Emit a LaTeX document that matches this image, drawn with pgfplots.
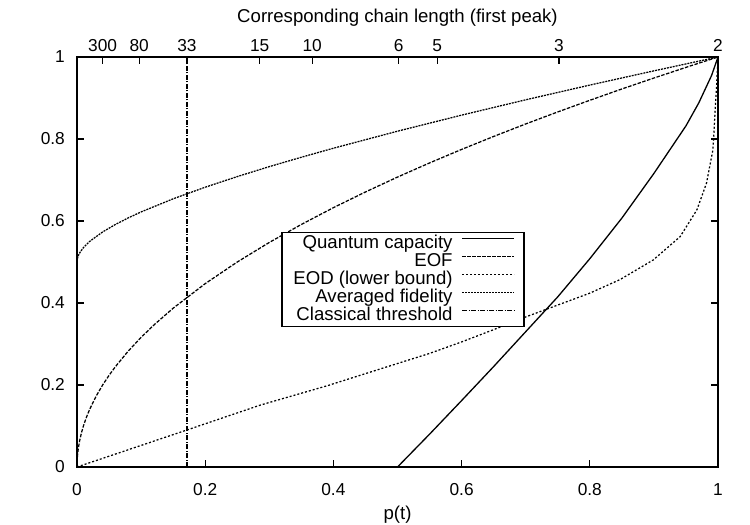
\documentclass[border=0pt]{standalone}
\usepackage{fontspec}
\setmainfont{Liberation Sans}
\usepackage{pgfplots}
\pgfplotsset{compat=1.18}

\begin{document}
\fontsize{18.6}{21}\selectfont
\begin{tikzpicture}
\begin{axis}[
  name=main,
  scale only axis,
  width=641pt, height=410pt,
  xmin=0, xmax=1, ymin=0, ymax=1,
  xtick={0,0.2,0.4,0.6,0.8,1},
  ytick={0,0.2,0.4,0.6,0.8,1},
  xtick pos=bottom,
  ytick pos=both,
  tick align=inside,
  major tick length=7pt,
  tick style={black, line width=1.1pt},
  axis line style={line width=1.8pt},
  /pgf/number format/assume math mode=true,
  ticklabel style={font=\fontsize{17.3}{20}\selectfont},
  yticklabel style={anchor=east, inner sep=0pt, xshift=-12pt},
  xticklabel style={anchor=north, inner sep=0pt, yshift=-16pt},
  xlabel={p(t)},
  xlabel style={at={(axis description cs:0.5,0)}, anchor=base, yshift=-52pt, inner sep=0pt},
  legend style={at={(0.319,0.574)}, anchor=north west, draw=black, line width=1.8pt,
    font=\fontsize{18.6}{21}\selectfont, inner xsep=9pt, inner ysep=2pt,
    row sep=0pt, column sep=7pt,
    nodes={inner xsep=2pt, inner ysep=0.5pt, text height=13.5pt, text depth=3.5pt}},
  legend cell align=right,
  legend plot pos=right,
  legend image code/.code={\draw[#1] (0pt,5pt) -- (52pt,5pt);},
]
% Quantum capacity
\addplot[black, line width=1.3pt, solid] coordinates {
(0.5,0) (0.52,0.032) (0.55,0.08) (0.6,0.162) (0.65,0.245) (0.7,0.33) (0.75,0.415)
(0.8,0.508) (0.85,0.607) (0.9,0.716) (0.95,0.832) (0.97,0.888) (0.99,0.955) (1,1)};
\addlegendentry{Quantum capacity}
% EOF
\addplot[black, line width=1.25pt, dash pattern=on 3.5pt off 1.5pt] coordinates {
(0,0) (0.0005,0.0224) (0.001,0.0316) (0.002,0.0447) (0.004,0.0632) (0.007,0.0837)
(0.01,0.1) (0.015,0.1225) (0.02,0.1414) (0.03,0.1732) (0.04,0.2) (0.05,0.2236)
(0.06,0.2449) (0.08,0.2828) (0.1,0.3162) (0.12,0.3464) (0.15,0.3873) (0.2,0.4472)
(0.25,0.5) (0.3,0.5477) (0.35,0.5916) (0.4,0.6325) (0.45,0.6708) (0.5,0.7071)
(0.55,0.7416) (0.6,0.7746) (0.65,0.8062) (0.7,0.8367) (0.75,0.866) (0.8,0.8944)
(0.85,0.922) (0.9,0.9487) (0.95,0.9747) (1,1)};
\addlegendentry{EOF}
% EOD lower bound
\addplot[black, line width=1.25pt, dash pattern=on 2pt off 2pt] coordinates {
(0,0) (0.171,0.090) (0.286,0.151) (0.39,0.198) (0.493,0.249) (0.55,0.277) (0.6,0.305)
(0.65,0.335) (0.7,0.366) (0.75,0.395) (0.8,0.424) (0.847,0.457) (0.899,0.505)
(0.941,0.562) (0.967,0.627) (0.982,0.692) (0.992,0.773) (0.995,0.854) (0.998,0.936) (1,1)};
\addlegendentry{EOD (lower bound)}
% Averaged fidelity
\addplot[black, line width=1.25pt, dash pattern=on 2pt off 1pt] coordinates {
(0,0.5) (0.001,0.5107) (0.002,0.5152) (0.005,0.5244) (0.01,0.535) (0.02,0.5505)
(0.04,0.5733) (0.06,0.5916) (0.08,0.6076) (0.1,0.6221) (0.15,0.6541) (0.2,0.6824)
(0.25,0.7083) (0.3,0.7326) (0.35,0.7555) (0.4,0.7775) (0.5,0.819) (0.6,0.8582)
(0.7,0.8956) (0.8,0.9315) (0.9,0.9662) (1,1)};
\addlegendentry{Averaged fidelity}
% Classical threshold
\addplot[black, line width=1.25pt, dash pattern=on 5pt off 1.5pt on 1pt off 1.5pt] coordinates {
(0.1716,0) (0.1716,1)};
\addlegendentry{Classical threshold}
\end{axis}
\begin{axis}[
  scale only axis,
  width=641pt, height=410pt,
  xmin=0, xmax=1, ymin=0, ymax=1,
  axis x line*=top,
  axis y line=none,
  axis line style={-, line width=1.8pt},
  xtick={0.04,0.097,0.1716,0.285,0.367,0.502,0.562,0.752,1},
  xticklabels={300,80,33,15,10,6,5,3,2},
  tick align=inside,
  major tick length=7pt,
  tick style={black, line width=1.1pt},
  ticklabel style={font=\fontsize{17.3}{20}\selectfont},
  xticklabel style={anchor=south, inner sep=0pt, yshift=5pt},
  xlabel={Corresponding chain length (first peak)},
  xlabel style={at={(axis description cs:0.5,1)}, anchor=base, yshift=34pt, inner sep=0pt},
]
\end{axis}
\pgfresetboundingbox
\path[use as bounding box] ([shift={(-77pt,-58pt)}]main.south west) rectangle ++(750pt,525pt);
\end{tikzpicture}
\end{document}
